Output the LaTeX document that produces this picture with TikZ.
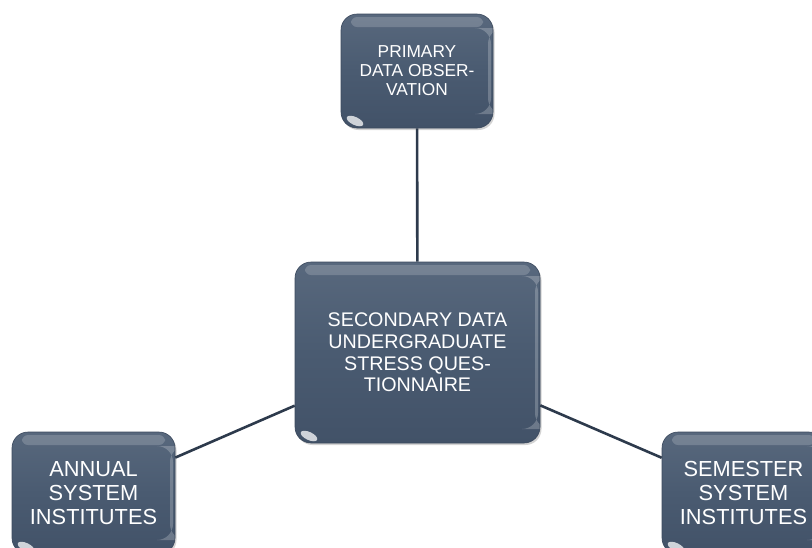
\documentclass[tikz,border=0pt]{standalone}
\usepackage{fontspec}
\setmainfont{Liberation Sans}
\usetikzlibrary{shadows,calc}
\definecolor{boxtop}{RGB}{88,104,125}
\definecolor{boxmid}{RGB}{74,91,113}
\definecolor{boxbot}{RGB}{66,82,104}
\definecolor{boxedge}{RGB}{60,74,94}
\definecolor{linecol}{RGB}{45,58,76}
\tikzset{
  glossbox/.style={rounded corners=16pt, draw=boxedge, line width=0.6pt,
    top color=boxtop, bottom color=boxbot, middle color=boxmid,
    text=white, align=center, inner sep=4pt,
    drop shadow={opacity=0.35, shadow xshift=1.5pt, shadow yshift=-2pt},
    path picture={
      \fill[white, opacity=0.18, rounded corners=6pt]
        ([xshift=10pt,yshift=-3pt]path picture bounding box.north west)
        rectangle ([xshift=-10pt,yshift=-13pt]path picture bounding box.north east);
      \fill[white, opacity=0.22]
        ([xshift=-5pt,yshift=-14pt]path picture bounding box.north east)
        rectangle ([xshift=-2pt,yshift=14pt]path picture bounding box.south east);
      \fill[white, opacity=0.75]
        ([xshift=14pt,yshift=7pt]path picture bounding box.south west)
        ellipse [x radius=9pt, y radius=4pt, rotate=-25];
    }},
  conn/.style={draw=linecol, line width=2.6pt}
}
\begin{document}
\begin{tikzpicture}[x=1pt,y=-1pt]
\useasboundingbox (0,0) rectangle (812,547);
\clip (0,0) rectangle (812,547);
\node[glossbox, minimum width=152pt, minimum height=114pt,
      font=\fontsize{17.3}{19}\selectfont] (top) at (417,71)
  {PRIMARY\\DATA OBSER-\\VATION};
\node[glossbox, minimum width=245pt, minimum height=181pt,
      font=\fontsize{19.7}{21.7}\selectfont] (mid) at (417.5,352.5)
  {SECONDARY DATA\\UNDERGRADUATE\\STRESS QUES-\\TIONNAIRE};
\node[glossbox, minimum width=163pt, minimum height=122pt,
      font=\fontsize{21.8}{24}\selectfont] (left) at (93.5,493)
  {ANNUAL\\SYSTEM\\INSTITUTES};
\node[glossbox, minimum width=163pt, minimum height=122pt,
      font=\fontsize{21.8}{24}\selectfont] (right) at (743.5,493)
  {SEMESTER\\SYSTEM\\INSTITUTES};
\draw[conn] (mid) -- (top);
\draw[conn] (mid) -- (left);
\draw[conn] (mid) -- (right);
\end{tikzpicture}
\end{document}
